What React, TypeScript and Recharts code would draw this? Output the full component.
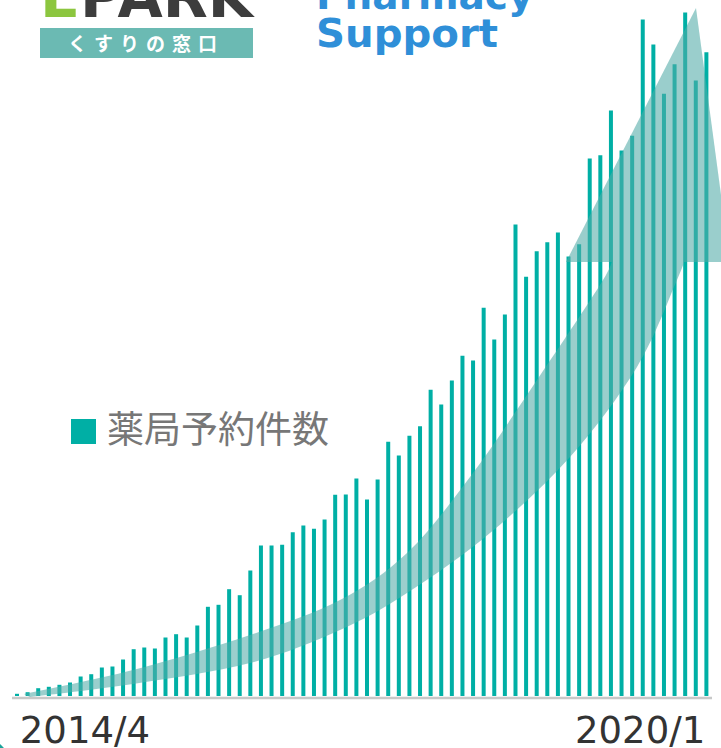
import React from "react";
import { BarChart, Bar, XAxis, YAxis } from "recharts";

// monthly pharmacy reservation counts (relative units)
const reservations = [
  2.2, 3.8, 7.8, 9.2, 11.2, 13.5, 19.5, 21.8, 28.5, 29.5,
  36.5, 46.8, 48.5, 47.5, 58.5, 61.8, 58.5, 70.5, 89.2, 91.2,
  106.8, 100.8, 125.5, 150.5, 150.5, 151.2, 163.8, 170.5, 167.2, 176.5,
  201.2, 201.5, 217.5, 196.5, 216.5, 254.2, 240.5, 260.2, 269.8, 306.2,
  291.5, 315.5, 340.2, 335.5, 388.2, 356.5, 381.5, 471.5, 419.2, 444.8,
  453.8, 463.5, 439.5, 451.8, 537.5, 540.8, 585.5, 545.5, 560.2, 676.5,
  651.5, 602.2, 631.8, 683.5, 615.5, 643.8,
];
const periods = reservations.map((_, i) => i + 1);
const tickLabels = ["2014/4", "2020/1"];
const seriesName = "薬局予約件数";

const data = periods.map((p, i) => ({ period: p, count: reservations[i] }));

const BAR_COLOR = "#00afa5";

function smoothPath(pts: number[][]) {
  let d = "";
  for (let i = 0; i < pts.length - 1; i++) {
    const p0 = pts[i - 1] || pts[i];
    const p1 = pts[i];
    const p2 = pts[i + 1];
    const p3 = pts[i + 2] || p2;
    const c1 = [p1[0] + (p2[0] - p0[0]) / 6, p1[1] + (p2[1] - p0[1]) / 6];
    const c2 = [p2[0] - (p3[0] - p1[0]) / 6, p2[1] - (p3[1] - p1[1]) / 6];
    d += `C${c1[0]},${c1[1]} ${c2[0]},${c2[1]} ${p2[0]},${p2[1]} `;
  }
  return d;
}

// decorative growth arrow, drawn in page pixels
const upperEdge = [
  [24, 694], [133, 670], [250, 635], [340, 600], [407, 553],
  [470, 477], [537, 380], [603, 280], [612, 256],
];
const lowerEdge = [
  [686, 256], [677, 280], [637, 367], [570, 457], [490, 533],
  [407, 593], [340, 630], [250, 663], [133, 684], [30, 697],
];
const shaftPath =
  `M${upperEdge[0][0]},${upperEdge[0][1]} ` +
  smoothPath(upperEdge) +
  `L${lowerEdge[0][0]},${lowerEdge[0][1]} ` +
  smoothPath(lowerEdge) +
  "Z";

function DateTick(props: any) {
  const { x, y, payload, index } = props;
  const first = index === 0;
  return (
    <text
      x={first ? x + 2.5 : x - 1.5}
      y={y + 39}
      textAnchor={first ? "start" : "end"}
      fill="#333"
      fontSize={37}
      fontFamily="DejaVu Sans"
    >
      {payload.value === periods[0] ? tickLabels[0] : tickLabels[1]}
    </text>
  );
}

export default function App() {
  return (
    <div
      style={{
        position: "absolute",
        left: 0,
        top: 0,
        width: 721,
        height: 748,
        overflow: "hidden",
        background: "#fff",
      }}
    >
      <BarChart
        width={721}
        height={748}
        data={data}
        margin={{ top: 0, right: 9, bottom: 0, left: 12 }}
      >
        <XAxis
          dataKey="period"
          height={52}
          ticks={[periods[0], periods[periods.length - 1]]}
          interval={0}
          tickLine={false}
          tick={<DateTick />}
          axisLine={{ stroke: "#c8c8c8", strokeWidth: 2.5, transform: "translate(0,2)" }}
        />
        <YAxis hide domain={[0, 696]} />
        <Bar
          dataKey="count"
          name={seriesName}
          fill={BAR_COLOR}
          barSize={4}
          isAnimationActive={false}
        />
      </BarChart>

      {/* legend */}
      <div style={{ position: "absolute", left: 71, top: 405, height: 45, width: 320 }}>
        <div
          style={{
            position: "absolute",
            left: 0,
            top: 14,
            width: 25,
            height: 25,
            background: BAR_COLOR,
          }}
        />
        <div
          style={{
            position: "absolute",
            left: 36,
            top: 0,
            fontSize: 37,
            lineHeight: "45px",
            color: "#777",
            fontFamily: "Noto Sans CJK JP",
            whiteSpace: "nowrap",
          }}
        >
          {seriesName}
        </div>
      </div>

      <svg
        width={721}
        height={748}
        style={{ position: "absolute", left: 0, top: 0, pointerEvents: "none" }}
      >
        <g opacity={0.58} fill="#52aca8">
          <path d={shaftPath} />
          <polygon points="696,8 566,262 730,262" />
        </g>

        <text x={40} y={17} fontSize={58} fontWeight={900} fontFamily="DejaVu Sans" textLength={213} lengthAdjust="spacingAndGlyphs">
          <tspan fill="#8cc63f">E</tspan>
          <tspan fill="#3d3d3d">PARK</tspan>
        </text>
        <rect x={40} y={28} width={213} height={30} fill="#6bbab3" />
        <text x={146} y={51} fontSize={19} fontWeight={700} fill="#fff" textAnchor="middle" fontFamily="Noto Sans CJK JP" letterSpacing={7}>
          くすりの窓口
        </text>

        <text x={316} y={9} fontSize={39} fontWeight={700} fill="#2f8fd8" fontFamily="DejaVu Sans">
          Pharmacy
        </text>
        <text x={316} y={47} fontSize={39} fontWeight={700} fill="#2f8fd8" fontFamily="DejaVu Sans" textLength={182} lengthAdjust="spacingAndGlyphs">
          Support
        </text>

        <circle cx={-22} cy={770} r={34} fill="#1aa39a" />
      </svg>
    </div>
  );
}
